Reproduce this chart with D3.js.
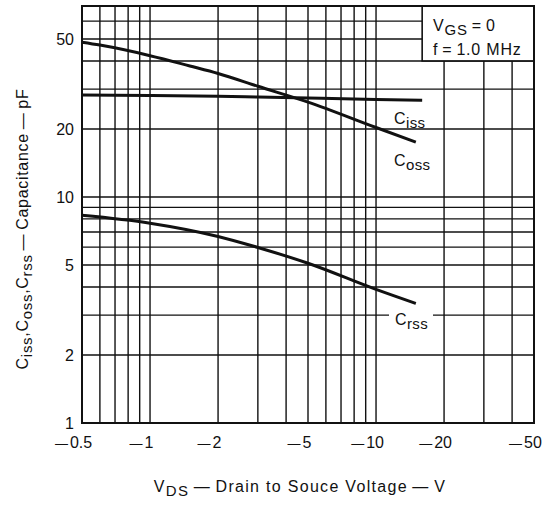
<!DOCTYPE html>
<html>
<head>
<meta charset="utf-8">
<script src="https://cdn.jsdelivr.net/npm/d3@7/dist/d3.min.js"></script>
<style>
  html, body { margin: 0; padding: 0; background: #fff; }
  svg { display: block; }
  text { font-family: "Liberation Sans", Arial, Helvetica, sans-serif; fill: #111; }
</style>
</head>
<body>
<svg id="chart" width="549" height="506"></svg>
<script>
// ---- data (|VDS| in volts, capacitance in pF) ----
const cissV = [0.5, 1, 2, 3, 5, 10, 16];
const cissC = [28.3, 28.1, 27.9, 27.7, 27.4, 27.0, 26.8];

const cossV = [0.5, 0.6, 1, 1.5, 2, 3, 5, 10, 15];
const cossC = [48.4, 47.0, 42.2, 38.0, 35.2, 30.9, 26.3, 20.3, 17.5];

const crssV = [0.5, 1, 2, 3, 5, 10, 15];
const crssC = [8.3, 7.66, 6.69, 5.98, 5.09, 3.9, 3.38];

const xGrid = [0.6, 0.7, 0.8, 0.9, 1, 2, 3, 4, 5, 6, 7, 8, 9, 10, 20, 30, 40];
const yGrid = [2, 3, 4, 5, 6, 7, 8, 9, 10, 20, 30, 40, 50, 60];
const xTickLabels = [0.5, 1, 2, 5, 10, 20, 50];
const yTickLabels = [1, 2, 5, 10, 20, 50];

// ---- layout ----
const svg = d3.select("#chart");
const L = 82, R = 534, T = 6, B = 423;
const x = d3.scaleLog().domain([0.5, 50]).range([L, R]);
const y = d3.scaleLog().domain([1, 70]).range([B, T]);
const FS = 16;
const ink = "#111";

// grid
const g = svg.append("g");
g.selectAll("line.vx").data(xGrid).join("line")
  .attr("x1", d => x(d)).attr("x2", d => x(d))
  .attr("y1", T).attr("y2", B)
  .attr("stroke", ink).attr("stroke-width", 1.4);
g.selectAll("line.hy").data(yGrid).join("line")
  .attr("x1", L).attr("x2", R)
  .attr("y1", d => y(d)).attr("y2", d => y(d))
  .attr("stroke", ink).attr("stroke-width", 1.4);

// legend box (white, covers grid)
const boxX = x(16), boxY2 = y(40);
svg.append("rect")
  .attr("x", boxX).attr("y", T).attr("width", R - boxX).attr("height", boxY2 - T)
  .attr("fill", "#fff").attr("stroke", ink).attr("stroke-width", 1.6);

// frame
svg.append("rect")
  .attr("x", L).attr("y", T).attr("width", R - L).attr("height", B - T)
  .attr("fill", "none").attr("stroke", ink).attr("stroke-width", 2);

// curves
const line = d3.line().x(d => x(d[0])).y(d => y(d[1])).curve(d3.curveMonotoneX);
function drawCurve(vs, cs) {
  svg.append("path")
    .datum(vs.map((v, i) => [v, cs[i]]))
    .attr("d", line)
    .attr("fill", "none").attr("stroke", ink).attr("stroke-width", 3)
    .attr("stroke-linecap", "butt");
}
drawCurve(cissV, cissC);
drawCurve(cossV, cossC);
drawCurve(crssV, crssC);

// axes labels via d3 axes
const xAxis = d3.axisBottom(x).tickValues(xTickLabels).tickSize(0).tickFormat(d => d);
const xa = svg.append("g").attr("transform", `translate(0,${B})`).call(xAxis);
xa.select(".domain").remove();
xa.selectAll(".tick text").each(function(d) {
  const t = d3.select(this);
  t.text(null).attr("y", 25).attr("dy", null)
   .attr("font-size", FS).attr("font-family", "Liberation Sans, Arial, sans-serif")
   .attr("fill", ink).attr("text-anchor", "middle").attr("dx", -9);
  t.append("tspan").attr("font-size", 13).text("—");
  t.append("tspan").attr("dx", 2).text(d);
});

const yAxis = d3.axisLeft(y).tickValues(yTickLabels).tickSize(0).tickFormat(d => d);
const ya = svg.append("g").attr("transform", `translate(${L},0)`).call(yAxis);
ya.select(".domain").remove();
ya.selectAll(".tick text")
  .attr("x", -8).attr("dy", "0.36em")
  .attr("font-size", FS).attr("font-family", "Liberation Sans, Arial, sans-serif")
  .attr("fill", ink);

// helper for text with subscripts: parts = [[text, isSub], ...]
function rich(sel, parts, subShift) {
  let cur = 0;
  parts.forEach(([s, sub]) => {
    const target = sub ? subShift : 0;
    const ts = sel.append("tspan").text(s).attr("dy", target - cur);
    if (sub) ts.attr("font-size", FS - 1);
    cur = target;
  });
}

// curve labels
const cl = svg.append("g").attr("font-size", FS).attr("letter-spacing", 0.4);
rich(cl.append("text").attr("x", 394).attr("y", 124), [["C", false], ["iss", true]], 4);
rich(cl.append("text").attr("x", 394).attr("y", 166), [["C", false], ["oss", true]], 4);
cl.append("rect").attr("x", 389).attr("y", 311).attr("width", 44).attr("height", 20).attr("fill", "#fff");
rich(cl.append("text").attr("x", 395).attr("y", 325), [["C", false], ["rss", true]], 4);

// legend text
const lg = svg.append("g").attr("font-size", FS).attr("letter-spacing", 0.8);
rich(lg.append("text").attr("x", 433).attr("y", 31), [["V", false], ["GS", true], ["\u2009=\u20090", false]], 4);
lg.append("text").attr("x", 433).attr("y", 55).text("f\u2009=\u20091.0 MHz");

// x title
rich(svg.append("text").attr("x", 300).attr("y", 492).attr("text-anchor", "middle")
  .attr("font-size", FS).attr("letter-spacing", 1.3),
  [["V", false], ["DS", true], ["\u2009—\u2009Drain to Souce Voltage\u2009—\u2009V", false]], 4);

// y title (rotated)
const yt = svg.append("text")
  .attr("transform", "translate(28,229) rotate(-90)")
  .attr("text-anchor", "middle").attr("font-size", FS).attr("letter-spacing", 0.7);
rich(yt, [["C", false], ["iss", true], [",C", false], ["oss", true], [",C", false], ["rss", true], ["\u2009—\u2009Capacitance\u2009—\u2009pF", false]], 4);
</script>
</body>
</html>
